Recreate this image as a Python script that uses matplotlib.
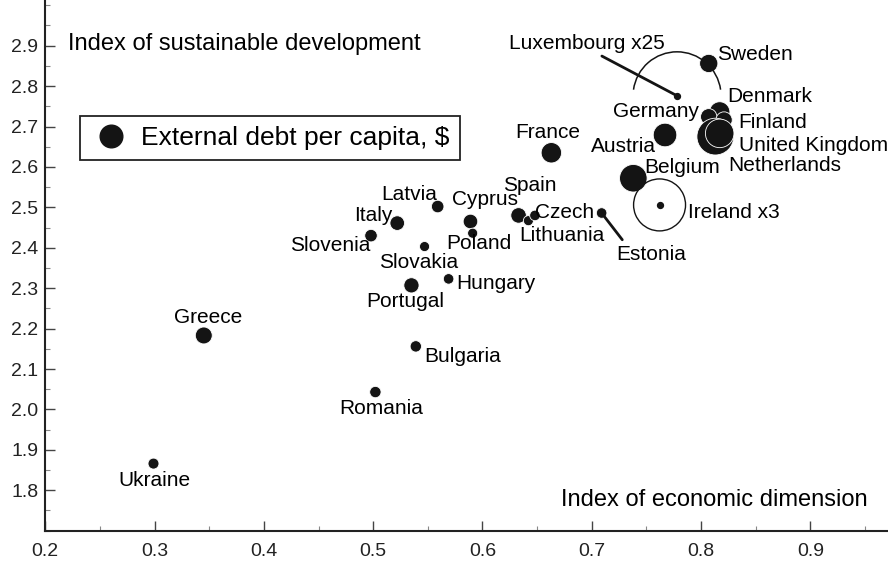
import matplotlib
matplotlib.use('Agg')
import matplotlib.pyplot as plt
import matplotlib.transforms as mtransforms
from matplotlib.patches import Arc
from matplotlib.lines import Line2D
from matplotlib.ticker import MultipleLocator, FixedLocator

plt.rcParams['font.family'] = ['Liberation Sans', 'DejaVu Sans']

# index of economic dimension (x), index of sustainable development (y),
# external debt per capita (thousand $)
countries = ['Ukraine', 'Greece', 'Romania', 'Bulgaria', 'Portugal', 'Hungary',
             'Slovakia', 'Slovenia', 'Italy', 'Latvia', 'Cyprus', 'Poland',
             'Spain', 'Lithuania', 'Czech', 'Estonia', 'France', 'Austria',
             'Belgium', 'Sweden', 'Denmark', 'Germany', 'Finland',
             'United Kingdom', 'Netherlands']
econ = [0.299, 0.345, 0.502, 0.539, 0.535, 0.569, 0.547, 0.498, 0.522, 0.559,
        0.589, 0.591, 0.633, 0.642, 0.648, 0.709, 0.663, 0.767, 0.738, 0.807,
        0.817, 0.807, 0.821, 0.813, 0.817]
sustain = [1.866, 2.183, 2.043, 2.156, 2.307, 2.323, 2.403, 2.430, 2.461, 2.502,
           2.465, 2.436, 2.480, 2.467, 2.480, 2.486, 2.635, 2.679, 2.572, 2.856,
           2.736, 2.724, 2.716, 2.675, 2.683]
debt = [13, 31, 14, 14, 25, 12, 11, 17, 23, 17, 23, 11, 26, 11, 12, 12,
        45, 60, 82, 36, 45, 29, 29, 146, 88]

# countries drawn scaled down
big_names = ['Ireland', 'Luxembourg']
big_econ = [0.762, 0.778]
big_sustain = [2.506, 2.776]
big_debt = [913, 21780]
big_factor = [3, 25]

SCALE = 4.8  # marker area (pt^2) per thousand $

# label offsets in pixels (dx right, dy down)
offsets = {
    'Ukraine': (1, 17), 'Greece': (4, -18), 'Romania': (6, 16), 'Bulgaria': (47, 10),
    'Portugal': (-6, 16), 'Hungary': (47, 5), 'Slovakia': (-6, 16), 'Slovenia': (-41, 10),
    'Italy': (-24, -8), 'Latvia': (-28, -12), 'Cyprus': (15, -22), 'Poland': (6, 10),
    'Spain': (11, -30), 'Lithuania': (33, 15), 'Czech': (30, -3), 'France': (-4, -20),
    'Austria': (-42, 12), 'Belgium': (49, -11), 'Sweden': (46, -9), 'Germany': (-53, -5),
    'Denmark': (50, -15), 'Finland': (49, 2), 'United Kingdom': (98, 9),
    'Netherlands': (65, 32),
}

fig = plt.figure(figsize=(8.88, 5.63), dpi=100)
ax = fig.add_axes([0.051, 0.0574, 0.949, 0.9426])
ax.set_xlim(0.2, 0.971)
ax.set_ylim(1.70, 3.013)

ax.scatter(econ, sustain, s=[d * SCALE for d in debt], c='#141414',
           edgecolors='white', linewidths=0.6, zorder=3)

lab = dict(fontsize=15, ha='center', va='center', textcoords='offset pixels', zorder=5)
for name, x, y in zip(countries, econ, sustain):
    if name == 'Estonia':
        ax.annotate(name, (x, y), xytext=(50, -41),
                    arrowprops=dict(arrowstyle='-', lw=2, color='#141414',
                                    relpos=(0.08, 1.25), shrinkA=0, shrinkB=0), **lab)
        continue
    dx, dy = offsets[name]
    ax.annotate(name, (x, y), xytext=(dx, -dy), **lab)

# Ireland and Luxembourg: small centre dot + scaled outline
ax.scatter(big_econ, big_sustain, s=18, c='#141414', zorder=4)
for name, x, y, d, f in zip(big_names, big_econ, big_sustain, big_debt, big_factor):
    diam = (d / f * 4.6) ** 0.5 / 72.0  # inches
    tr = fig.dpi_scale_trans + mtransforms.ScaledTranslation(x, y, ax.transData)
    if name == 'Ireland':
        ax.add_patch(Arc((0, 0), diam, diam, transform=tr, lw=1, color='#141414', zorder=3))
        ax.annotate('Ireland x3', (x, y), xytext=(74, -8), **lab)
    else:
        ax.add_patch(Arc((0, 0), diam, diam, theta1=8, theta2=172, transform=tr,
                         lw=1.1, color='#141414', zorder=3))
        ax.annotate('Luxembourg x25', (x, y), xytext=(-90, 52),
                    arrowprops=dict(arrowstyle='-', lw=2, color='#141414',
                                    relpos=(0.55, 0.05), shrinkA=0, shrinkB=0), **lab)

ax.text(0.027, 0.917, 'Index of sustainable development', transform=ax.transAxes,
        fontsize=17, ha='left', va='center')
ax.text(0.976, 0.058, 'Index of economic dimension', transform=ax.transAxes,
        fontsize=17, ha='right', va='center')

handle = Line2D([], [], marker='o', ls='', color='#141414', markersize=16.3)
leg = ax.legend([handle], ['External debt per capita, $'], loc='upper left',
                bbox_to_anchor=(0.0412, 0.7814), borderaxespad=0, fontsize=19,
                fancybox=False, framealpha=1, edgecolor='#222', borderpad=0.38,
                handlelength=1.6, handletextpad=0.35)
leg.get_frame().set_linewidth(1.3)

for s in ['top', 'right']:
    ax.spines[s].set_visible(False)
for s in ['left', 'bottom']:
    ax.spines[s].set_linewidth(1.5)
    ax.spines[s].set_color('#222')

ax.xaxis.set_major_locator(FixedLocator([0.2, 0.3, 0.4, 0.5, 0.6, 0.7, 0.8, 0.9]))
ax.xaxis.set_minor_locator(MultipleLocator(0.05))
ax.yaxis.set_major_locator(FixedLocator([1.8, 1.9, 2.0, 2.1, 2.2, 2.3, 2.4, 2.5,
                                         2.6, 2.7, 2.8, 2.9]))
ax.yaxis.set_minor_locator(MultipleLocator(0.05))
ax.xaxis.set_major_formatter(lambda v, p: f'{v:.1f}')
ax.yaxis.set_major_formatter(lambda v, p: f'{v:.1f}')
ax.tick_params(which='major', direction='in', length=7, width=1, color='#444',
               labelsize=14, labelcolor='#222')
ax.tick_params(which='minor', direction='in', length=3.5, width=0.8, color='#888')
ax.tick_params(axis='x', pad=9)
ax.tick_params(axis='y', pad=5)

fig.savefig('out.png', dpi=100)
